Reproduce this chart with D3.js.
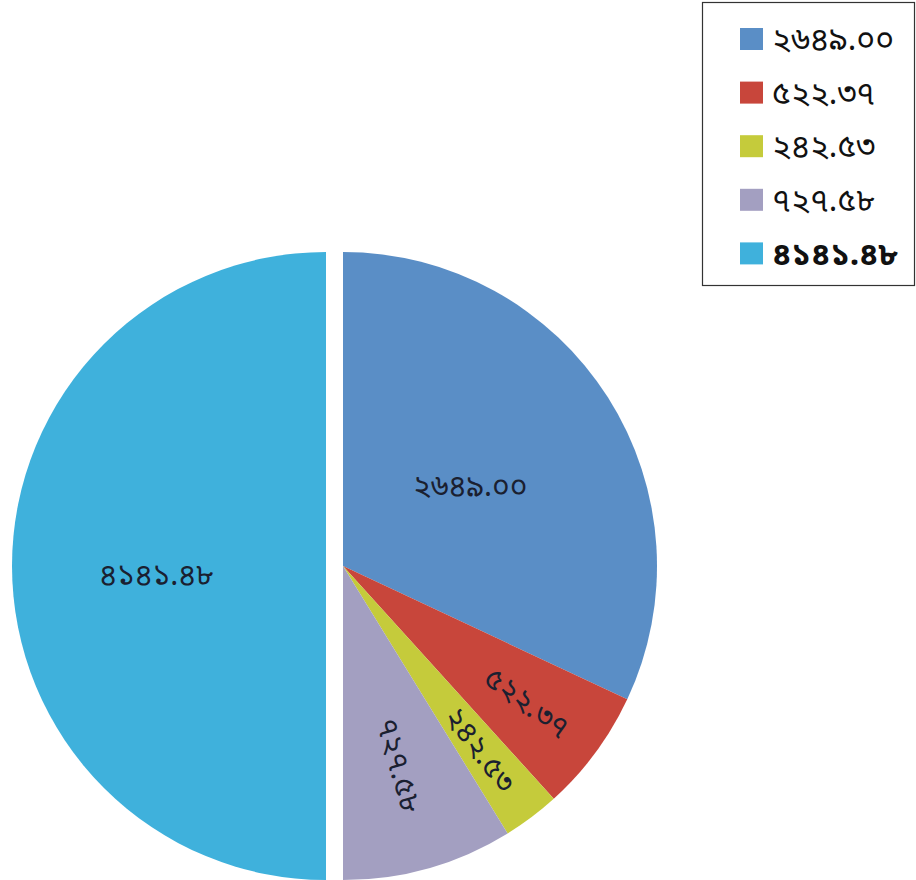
<!DOCTYPE html>
<html>
<head>
<meta charset="utf-8">
<script src="https://cdn.jsdelivr.net/npm/d3@7"></script>
<style>
  body { margin: 0; background: #fff; }
  svg { display: block; }
</style>
</head>
<body>
<svg id="chart" width="916" height="880"></svg>
<script>
// slice values, read clockwise from 12 o'clock
let values = [2649.00, 522.37, 242.53, 727.58, 4141.48];
let labels = ["২৬৪৯.০০", "৫২২.৩৭", "২৪২.৫৩", "৭২৭.৫৮", "৪১৪১.৪৮"];
let colors = ["#5a8ec6", "#c8463b", "#c5cb3b", "#a39fc1", "#3fb1dc"];

let width = 916,
    height = 880,
    radius = 314,
    cx = 336,
    cy = 566;

let fontStack = "'Noto Sans Bengali', 'Lohit Bengali', 'FreeSans', 'Noto Sans', sans-serif"

let svg = d3.select("#chart");

let pie = d3.pie().sort(null).value(d => d)
let arcs = pie(values)
let arc = d3.arc().innerRadius(0).outerRadius(radius)

let g = svg.append("g").attr("transform", "translate(" + cx + "," + cy + ")")

// the big half is pulled out to the left, the rest a bit to the right
function offset(d) {
    if (d.index != 4) return [7, 0]
    return [-10, 0]
}

let slice = g.selectAll("g.slice")
    .data(arcs)
    .enter()
    .append("g")
    .attr("class", "slice")
    .attr("transform", d => "translate(" + offset(d) + ")")

slice.append("path")
    .attr("d", arc)
    .attr("fill", (d, i) => colors[i])

slice.append("text")
    .attr("transform", d => {
        let mid = (d.startAngle + d.endAngle) / 2
        let big = d.endAngle - d.startAngle > 1
        let r = big ? radius * (d.index == 4 ? 0.54 : 0.48) : radius * (d.index == 3 ? 0.66 : 0.73)
        let x = Math.sin(mid) * r,
            y = -Math.cos(mid) * r
        if (d.index == 4) y += 8
        let rot = big ? 0 : mid * 180 / Math.PI - 90
        return "translate(" + x + "," + y + ") rotate(" + rot + ")"
    })
    .attr("text-anchor", "middle")
    .attr("dy", "0.35em")
    .attr("font-family", fontStack)
    .attr("font-size", 30)
    .attr("fill", "#1a2030")
    .text(d => labels[d.index])

// legend
let legend = svg.append("g")

legend.append("rect")
    .attr("x", 702.5)
    .attr("y", 2.5)
    .attr("width", 212)
    .attr("height", 283)
    .attr("fill", "#fff")
    .attr("stroke", "#333")
    .attr("stroke-width", 1.2)

let item = legend.selectAll("g.item")
    .data(labels)
    .enter()
    .append("g")
    .attr("class", "item")
    .attr("transform", (d, i) => "translate(740," + (39 + i * 53.6) + ")")

item.append("rect")
    .attr("x", 0)
    .attr("y", -11)
    .attr("width", 23)
    .attr("height", 22)
    .attr("fill", (d, i) => colors[i])

item.append("text")
    .attr("x", 32)
    .attr("dy", "0.35em")
    .attr("font-family", fontStack)
    .attr("font-size", 32)
    .attr("font-weight", (d, i) => i == 4 ? "bold" : "normal")
    .attr("fill", "#111")
    .text(d => d)
</script>
</body>
</html>
